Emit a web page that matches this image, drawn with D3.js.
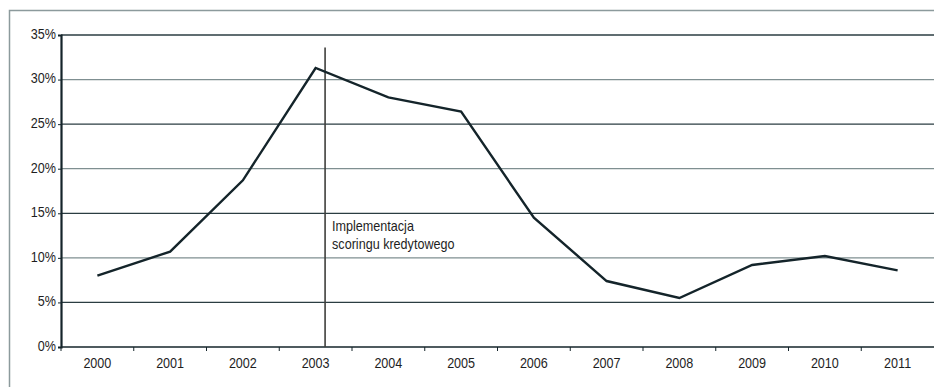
<!DOCTYPE html>
<html>
<head>
<meta charset="utf-8">
<script src="https://cdn.jsdelivr.net/npm/d3@7"></script>
<style>
  html, body { margin: 0; padding: 0; background: #fff; }
  svg { display: block; }
  text { font-family: "Liberation Sans", Arial, sans-serif; fill: #1e1e1e; }
</style>
</head>
<body>
<svg id="chart" width="934" height="387"></svg>
<script>
// Yearly share (%) of the series
const years = ["2000","2001","2002","2003","2004","2005","2006","2007","2008","2009","2010","2011"];
const values = [8.0, 10.7, 18.7, 31.3, 28.0, 26.4, 14.5, 7.4, 5.5, 9.2, 10.2, 8.6];
const yTicks = [0, 5, 10, 15, 20, 25, 30, 35];
// Marker for the introduction of credit scoring
const markerYear = "2003";
const markerOffset = 0.63; // fraction of the year's band
const markerTop = 33.6;    // % level where the marker line starts
const markerLabel = ["Implementacja", "scoringu kredytowego"];

const svg = d3.select("#chart");
const W = 934, H = 387;
const m = { left: 61, right: 0, top: 35, bottom: 40 };
const plotBottom = 347;
const FS = "14px";     // label font size
const SX = 0.9;        // horizontal condensing of labels

// outer frame (open on the right and bottom)
svg.append("path")
  .attr("d", `M9.5,${H} V10.5 H${W}`)
  .attr("fill", "none")
  .attr("stroke", "#8c9a9c")
  .attr("stroke-width", 1.5);

const x = d3.scaleBand().domain(years).range([m.left, W - m.right]).paddingInner(0).paddingOuter(0);
const y = d3.scaleLinear().domain([0, 35]).range([plotBottom, m.top]);

// horizontal grid lines
svg.append("g")
  .selectAll("line")
  .data(yTicks.filter(d => d > 0))
  .join("line")
  .attr("x1", m.left).attr("x2", W)
  .attr("y1", d => y(d)).attr("y2", d => y(d))
  .attr("stroke", d => (d === 35 || d === 25 || d === 15 || d === 5) ? "#2b3d42" : "#7f8f91")
  .attr("stroke-width", 1.3);

// y axis
const yAxis = d3.axisLeft(y).tickValues(yTicks).tickFormat(d => d + "%").tickSize(3).tickPadding(2);
const gy = svg.append("g").attr("transform", `translate(${m.left},0)`).call(yAxis);
gy.select(".domain").attr("stroke", "#14242a").attr("stroke-width", 2.2);
gy.selectAll(".tick line").attr("stroke", "#14242a");
gy.selectAll(".tick text")
  .attr("font-size", FS).attr("fill", "#1e1e1e")
  .attr("font-family", "Liberation Sans, Arial, sans-serif")
  .attr("x", -5 / SX)
  .attr("dy", "0.24em")
  .attr("transform", `scale(${SX},1)`);

// x axis with ticks at band boundaries
const gx = svg.append("g").attr("transform", `translate(0,${plotBottom})`);
gx.append("line")
  .attr("x1", m.left).attr("x2", W)
  .attr("stroke", "#14242a").attr("stroke-width", 1.6);
gx.selectAll("line.tk")
  .data(years)
  .join("line")
  .attr("class", "tk")
  .attr("x1", d => x(d)).attr("x2", d => x(d))
  .attr("y1", 0).attr("y2", 4)
  .attr("stroke", "#14242a").attr("stroke-width", 1);
gx.selectAll("text")
  .data(years)
  .join("text")
  .attr("transform", d => `translate(${x(d) + x.bandwidth() / 2},21) scale(${SX},1)`)
  .attr("text-anchor", "middle")
  .attr("font-size", FS)
  .text(d => d);

// marker line
const mx = x(markerYear) + x.bandwidth() * markerOffset;
svg.append("line")
  .attr("x1", mx).attr("x2", mx)
  .attr("y1", y(markerTop)).attr("y2", plotBottom)
  .attr("stroke", "#3f3f3d").attr("stroke-width", 1.6);

svg.append("g")
  .selectAll("text")
  .data(markerLabel)
  .join("text")
  .attr("transform", (d, i) => `translate(${mx + 7},${y(13.0) + i * 18}) scale(${SX},1)`)
  .attr("font-size", FS)
  .text(d => d);

// data line
const line = d3.line()
  .x((d, i) => x(years[i]) + x.bandwidth() / 2)
  .y(d => y(d));
svg.append("path")
  .datum(values)
  .attr("d", line)
  .attr("fill", "none")
  .attr("stroke", "#14242a")
  .attr("stroke-width", 2.4)
  .attr("stroke-linejoin", "miter");
</script>
</body>
</html>
